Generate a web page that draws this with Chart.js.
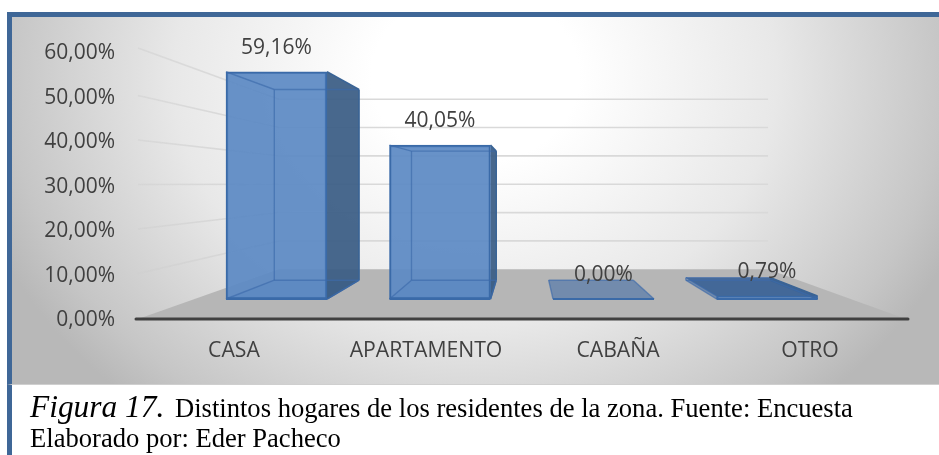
<!DOCTYPE html>
<html lang="es">
<head>
<meta charset="utf-8">
<title>Figura 17</title>
<style>
html,body{margin:0;padding:0;background:#fff;width:939px;height:455px;overflow:hidden}
#frame{position:absolute;left:7px;top:12px;width:932px;height:373px;box-sizing:border-box;
 border-left:5px solid #3f6797;border-top:5px solid #3f6797;border-bottom:1px solid #cfcfcf;
 background:radial-gradient(ellipse 520px 430px at 463px 60px,#ffffff 0%,#ffffff 20%,#e8e8e8 58%,#c6c6c6 90%,#b8b8b8 100%)}
#leftbar{position:absolute;left:7px;top:385px;width:5px;height:70px;background:#3f6797}
canvas{position:absolute;left:0;top:0}
.cap{position:absolute;white-space:nowrap;font-family:"Liberation Serif",serif;color:#000}
#c1{left:30px;top:389px;font-size:26.6px}
#c1 i{font-size:31.4px;margin-right:4px}
#c2{left:30px;top:423px;font-size:26.6px}
</style>
</head>
<body>
<div id="frame"></div><div id="leftbar"></div>
<canvas id="chart" width="939" height="455"></canvas>
<div class="cap" id="c1"><i>Figura 17.</i> Distintos hogares de los residentes de la zona. Fuente: Encuesta</div>
<div class="cap" id="c2">Elaborado por: Eder Pacheco</div>
<script src="https://cdn.jsdelivr.net/npm/chart.js@4"></script>
<script>
const categories = ["CASA", "APARTAMENTO", "CABAÑA", "OTRO"];
const values = [59.16, 40.05, 0.00, 0.79];
const barSlots = [0, 1, 2, 3];
const pct = v => v.toFixed(2).replace(".", ",") + "%";

const VP = {x: 526, y: 182};
const WALL_K = 0.637, BAR_K = 0.839;
const proj = (x, y, k) => [VP.x + (x - VP.x) * k, VP.y + (y - VP.y) * k];
function poly(ctx, pts, fill, stroke, lw) {
  ctx.beginPath();
  pts.forEach((p, i) => i ? ctx.lineTo(p[0], p[1]) : ctx.moveTo(p[0], p[1]));
  ctx.closePath();
  if (fill) { ctx.fillStyle = fill; ctx.fill(); }
  if (stroke) { ctx.strokeStyle = stroke; ctx.lineWidth = lw || 1; ctx.stroke(); }
}
function line(ctx, a, b, color, w, cap) {
  ctx.beginPath(); ctx.moveTo(a[0], a[1]); ctx.lineTo(b[0], b[1]);
  ctx.strokeStyle = color; ctx.lineWidth = w; ctx.lineCap = cap || "butt"; ctx.stroke();
}

const perspective = {
  id: "perspective",
  beforeDatasetsDraw(chart) {
    const {ctx, chartArea: a} = chart, y = chart.scales.y;
    ctx.save();
    const base = y.getPixelForValue(0);
    const L = a.left, R = a.right;
    const floorBL = proj(L, base, WALL_K), floorBR = proj(R, base, WALL_K);
    poly(ctx, [[L, base], [R, base], floorBR, floorBL], "#b6b6b6");
    y.ticks.forEach(t => {
      if (t.value === 0) return;
      const py = y.getPixelForValue(t.value);
      const back = proj(L, py, WALL_K), backR = proj(R, py, WALL_K);
      const g = ctx.createLinearGradient(L, 0, back[0], 0);
      g.addColorStop(0, "rgba(205,205,205,.45)");
      g.addColorStop(1, "rgba(215,215,215,1)");
      line(ctx, [L, py - (t.value === 60 ? 4 : 1)], back, g, 1.6);
      line(ctx, back, backR, "#d9d9d9", 1.6);
    });
    const meta = chart.getDatasetMeta(0);
    meta.data.forEach((bar, i) => {
      const hw = bar.width / 2, l = bar.x - hw, r = bar.x + hw, t = bar.y, b = bar.base;
      const bl = proj(l, b, BAR_K), br = proj(r, b, BAR_K), tl = proj(l, t, BAR_K), tr = proj(r, t, BAR_K);
      poly(ctx, [[l, b], [r, b], br, bl], "rgba(58,104,165,.55)");
      if (values[i] > 0) {
        poly(ctx, [[r, t], [r, b], br, tr], "rgba(58,92,132,.93)");
        if (t > VP.y) poly(ctx, [[l, t], [r, t], tr, tl], "rgba(62,100,150,.9)");
      }
    });
    ctx.restore();
  },
  afterDatasetsDraw(chart) {
    const {ctx, chartArea: a} = chart, y = chart.scales.y;
    ctx.save();
    const meta = chart.getDatasetMeta(0);
    meta.data.forEach((bar, i) => {
      const hw = bar.width / 2, l = bar.x - hw, r = bar.x + hw, t = bar.y, b = bar.base;
      const bl = proj(l, b, BAR_K), br = proj(r, b, BAR_K), tl = proj(l, t, BAR_K), tr = proj(r, t, BAR_K);
      const edge = "rgba(60,106,170,.65)";
      if (values[i] > 0) {
        line(ctx, tl, bl, edge, 1.4); line(ctx, tl, tr, edge, 1.4);
        line(ctx, [l, t], tl, edge, 1.4); line(ctx, [r, t], tr, "#3a6496", 1.6);
        line(ctx, tr, br, "#3a6496", 1.6);
        line(ctx, br, [r, b], "#3a6496", 1.6);
      }
      line(ctx, bl, br, edge, 1.4);
      line(ctx, [l, b], bl, edge, 1.4);
      line(ctx, [r, b], br, edge, 1.4);
      line(ctx, [l, b], [r, b], "#3a6aa8", 2);
      ctx.fillStyle = "#404040";
      ctx.font = '21px "Open Sans"';
      ctx.textAlign = "center"; ctx.textBaseline = "middle";
      ctx.fillText(pct(values[i]), bar.x, t - 24);
    });
    const base = y.getPixelForValue(0);
    line(ctx, [a.left - 2, base], [a.right + 2, base], "#404040", 3, "round");
    ctx.restore();
  }
};

new Chart(document.getElementById("chart"), {
  type: "bar",
  data: {
    labels: categories,
    datasets: [{
      data: values.map((v, i) => ({x: barSlots[i], y: v})),
      xAxisID: "x2", yAxisID: "y2",
      backgroundColor: "rgba(92,138,196,.93)",
      borderColor: "#3a6aa8",
      borderWidth: 2,
      borderSkipped: false,
      barThickness: 101
    }]
  },
  plugins: [perspective],
  options: {
    responsive: false, animation: false,
    layout: {padding: {left: 0, top: 52, right: 33, bottom: 0}},
    plugins: {legend: {display: false}, tooltip: {enabled: false}, title: {display: false}},
    scales: {
      x: {
        type: "category", position: "bottom",
        grid: {display: false}, border: {display: false},
        ticks: {color: "#404040", font: {family: "Open Sans", size: 21.2}, padding: 11, maxRotation: 0, autoSkip: false},
        afterFit(s) { s.height = 136; }
      },
      y: {
        type: "linear", position: "left", min: 0, max: 60,
        grid: {display: false}, border: {display: false},
        ticks: {stepSize: 10, color: "#404040", font: {family: "Open Sans", size: 21}, padding: 15, labelOffset: 1.5, callback: pct},
        afterFit(s) { s.width = 138; }
      },
      x2: {type: "linear", display: false, min: -0.847, max: 3.85, offset: false},
      y2: {type: "linear", display: false, min: -5.2, max: 64.3}
    }
  }
});
</script>
</body>
</html>
